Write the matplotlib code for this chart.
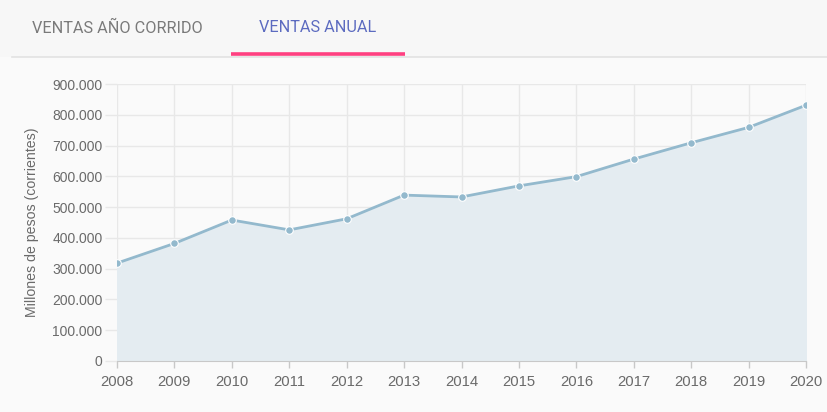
import matplotlib.pyplot as plt
from matplotlib.ticker import FuncFormatter

years = [2008, 2009, 2010, 2011, 2012, 2013, 2014, 2015, 2016, 2017, 2018, 2019, 2020]
ventas = [318000, 382000, 458000, 426000, 462000, 539000, 533000, 569000, 599000, 656000, 709000, 759000, 831000]
y_ticks = [0, 100000, 200000, 300000, 400000, 500000, 600000, 700000, 800000, 900000]

LINE = "#93b9cd"
FILL = "#e4ecf1"
GRID = "#e8e8e8"
AXIS = "#c8c8c8"
TXT = "#6a6a6a"

W, H = 828, 412
fig = plt.figure(figsize=(W / 100, H / 100), dpi=100)
fig.patch.set_facecolor("#fafafa")

# header tabs
fig.patches.append(plt.Rectangle((0, 1 - 57 / H), 1, 57 / H, transform=fig.transFigure,
                                 facecolor="#f7f7f7", edgecolor="none", zorder=0))
fig.lines.append(plt.Line2D([12 / W, 1], [1 - 57 / H] * 2, transform=fig.transFigure,
                            color="#e2e2e2", lw=1.2))
fig.lines.append(plt.Line2D([231 / W, 405 / W], [1 - 54 / H] * 2, transform=fig.transFigure,
                            color="#ff4081", lw=2.6, solid_capstyle="butt"))
fig.text(117 / W, 1 - 28 / H, "VENTAS AÑO CORRIDO", ha="center", va="center",
         fontsize=11.7, color="#7a7a7a", family=["Roboto", "DejaVu Sans"])
fig.text(318 / W, 1 - 28 / H, "VENTAS ANUAL", ha="center", va="center",
         fontsize=11.7, color="#5c6bc0", family=["Roboto", "DejaVu Sans"])

ax = fig.add_axes([117 / W, (H - 361) / H, 689 / W, 277 / H])
ax.set_facecolor("#fafafa")
ax.fill_between(years, ventas, 0, color=FILL, zorder=1)
ax.plot(years, ventas, color=LINE, lw=2, zorder=3)
ax.scatter(years, ventas, s=30, color=LINE, edgecolor="white", linewidth=0.8, zorder=4)

ax.set_xlim(years[0], years[-1])
ax.set_ylim(0, 900000)
ax.set_xticks(years)
ax.set_yticks(y_ticks)
ax.yaxis.set_major_formatter(FuncFormatter(lambda v, p: f"{v:,.0f}".replace(",", ".")))
ax.grid(True, color=GRID, lw=1, zorder=0)
ax.set_axisbelow(True)
for s in ["top", "right", "left"]:
    ax.spines[s].set_visible(False)
ax.spines["bottom"].set_color(AXIS)

ax.tick_params(axis="y", length=9, width=1, color=GRID, pad=1.5, labelsize=10, labelcolor=TXT)
ax.yaxis.get_major_ticks()[0].tick1line.set_color(AXIS)
ax.tick_params(axis="x", length=5, width=1, color=AXIS, pad=5, labelsize=10.7, labelcolor=TXT)
for lbl in ax.get_xticklabels() + ax.get_yticklabels():
    lbl.set_family(["Liberation Sans", "DejaVu Sans"])

ax.set_ylabel("Millones de pesos (corrientes)", fontsize=10.2, color=TXT,
              family=["Liberation Sans", "DejaVu Sans"])
ax.yaxis.set_label_coords(-(117 - 39) / 689, 0.5)

fig.savefig("out.png", dpi=100, facecolor=fig.get_facecolor())
